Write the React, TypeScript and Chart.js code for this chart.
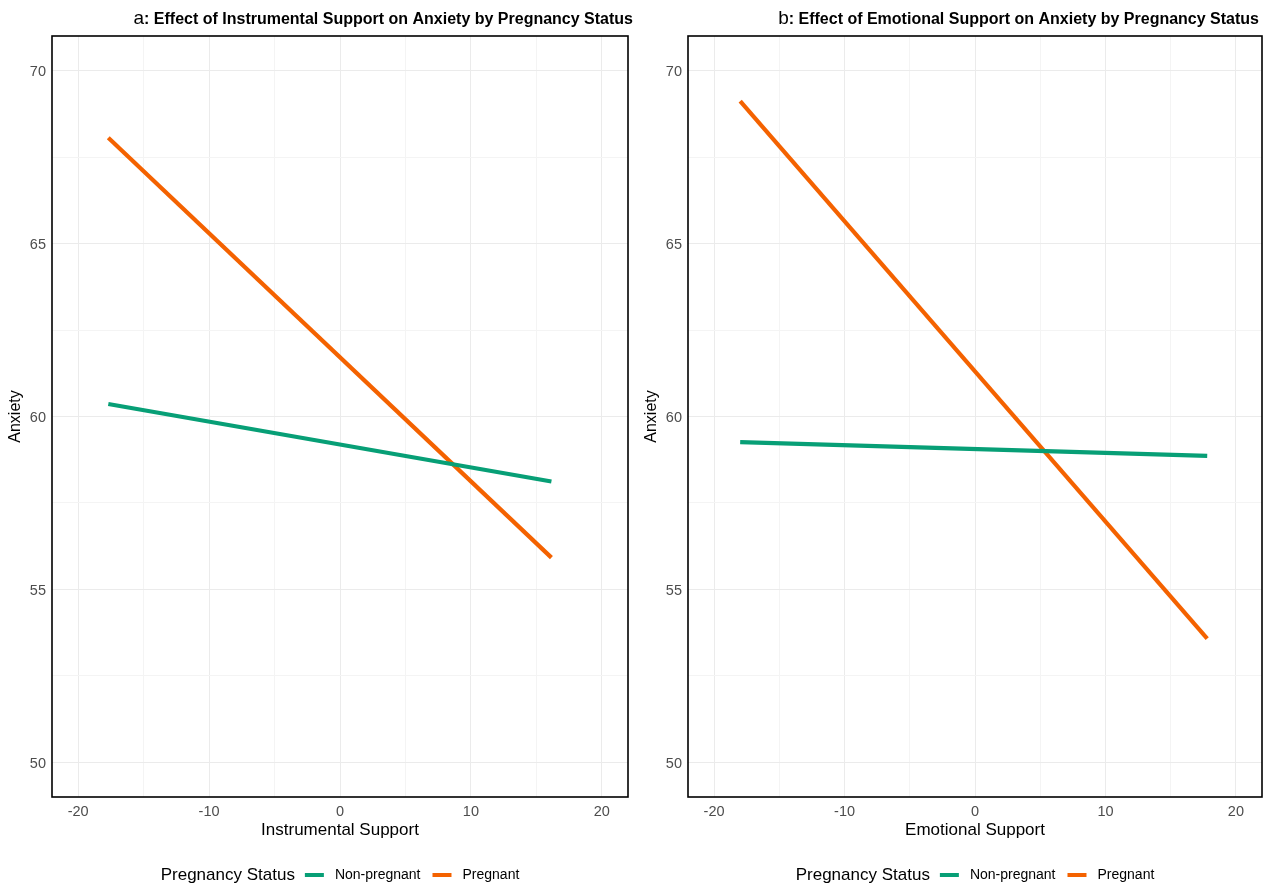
import React, { useEffect, useRef } from 'react';
import { Chart, registerables } from 'chart.js';

Chart.register(...registerables);

// ---- data ----
const statusLabels = ['Non-pregnant', 'Pregnant'];
const legendTitle = 'Pregnancy Status';
const yTitle = 'Anxiety';

const instrX = [-17.7, 16.15];
const instrNonPregnant = [60.36, 58.12];
const instrPregnant = [68.06, 55.92];

const emoX = [-18.0, 17.8];
const emoNonPregnant = [59.26, 58.86];
const emoPregnant = [69.12, 53.58];

const xTickLabels = [-20, -10, 0, 10, 20];
const yTickLabels = [50, 55, 60, 65, 70];

const colors = ['#079F76', '#F46200'];
const FONT = '"Liberation Sans", Arial, Helvetica, sans-serif';
const H = 886;

type PanelCfg = {
  tag: string;
  title: string;
  xTitle: string;
  xs: number[];
  series: number[][];
  width: number;
  left: number;
  padRight: number;
  titleRight: number;
};

const panels: PanelCfg[] = [
  {
    tag: 'a',
    title: ': Effect of Instrumental Support on Anxiety by Pregnancy Status',
    xTitle: 'Instrumental Support',
    xs: instrX,
    series: [instrNonPregnant, instrPregnant],
    width: 636,
    left: 0,
    padRight: 8,
    titleRight: 633,
  },
  {
    tag: 'b',
    title: ': Effect of Emotional Support on Anxiety by Pregnancy Status',
    xTitle: 'Emotional Support',
    xs: emoX,
    series: [emoNonPregnant, emoPregnant],
    width: 629,
    left: 636,
    padRight: 3,
    titleRight: 623,
  },
];

function PanelChart({ cfg }: { cfg: PanelCfg }) {
  const ref = useRef<HTMLCanvasElement>(null);
  useEffect(() => {
    const canvas = ref.current;
    if (!canvas) return;
    const decor = {
      id: 'decor',
      afterDatasetsDraw(chart: any) {
        const { ctx, chartArea: ca } = chart;
        ctx.save();
        ctx.strokeStyle = '#000';
        ctx.lineWidth = 1.6;
        ctx.strokeRect(ca.left, ca.top, ca.right - ca.left, ca.bottom - ca.top);
        ctx.restore();
      },
      afterDraw(chart: any) {
        const { ctx, chartArea: ca } = chart;
        ctx.save();
        // title
        ctx.textBaseline = 'middle';
        ctx.fillStyle = '#000';
        ctx.font = `bold 16px ${FONT}`;
        const wTitle = ctx.measureText(cfg.title).width;
        ctx.font = `19px ${FONT}`;
        const wTag = ctx.measureText(cfg.tag).width;
        const start = cfg.titleRight - wTitle - wTag;
        ctx.textAlign = 'left';
        ctx.fillText(cfg.tag, start, 19);
        ctx.font = `bold 16px ${FONT}`;
        ctx.fillText(cfg.title, start + wTag, 20);

        // axis titles
        const cx = (ca.left + ca.right) / 2;
        const cy = (ca.top + ca.bottom) / 2;
        ctx.font = `17px ${FONT}`;
        ctx.textAlign = 'center';
        ctx.fillText(cfg.xTitle, cx, 830);
        ctx.save();
        ctx.translate(16, cy);
        ctx.rotate(-Math.PI / 2);
        ctx.font = `16px ${FONT}`;
        ctx.fillText(yTitle, 0, 0);
        ctx.restore();

        // legend
        const ly = 875;
        const sw = 19;
        ctx.font = `17px ${FONT}`;
        const wLT = ctx.measureText(legendTitle).width;
        ctx.font = `14px ${FONT}`;
        const wLabels = chart.data.datasets.map((d: any) => ctx.measureText(d.label).width);
        const gapT = 10, gapS = 11, gapL = 12;
        let total = wLT;
        wLabels.forEach((w: number) => { total += gapT + sw + gapS + w; });
        total += gapL - gapT;
        let x = cx - total / 2;
        ctx.textAlign = 'left';
        ctx.font = `17px ${FONT}`;
        ctx.fillText(legendTitle, x, ly);
        x += wLT;
        chart.data.datasets.forEach((d: any, i: number) => {
          x += i === 0 ? gapT : gapL;
          ctx.strokeStyle = d.borderColor;
          ctx.lineWidth = 4;
          ctx.beginPath();
          ctx.moveTo(x, ly);
          ctx.lineTo(x + sw, ly);
          ctx.stroke();
          x += sw + gapS;
          ctx.font = `14px ${FONT}`;
          ctx.fillStyle = '#000';
          ctx.fillText(d.label, x, ly);
          x += wLabels[i];
        });
        ctx.restore();
      },
    };

    const chart = new Chart(canvas, {
      type: 'line',
      data: {
        datasets: cfg.series.map((s, i) => ({
          label: statusLabels[i],
          data: cfg.xs.map((xv, j) => ({ x: xv, y: s[j] })),
          borderColor: colors[i],
          backgroundColor: colors[i],
          borderWidth: 4.2,
          pointRadius: 0,
          tension: 0,
          fill: false,
        })),
      },
      options: {
        animation: false,
        responsive: false,
        devicePixelRatio: 1,
        layout: { padding: { left: 0, right: cfg.padRight, top: 36, bottom: 0 } },
        plugins: { legend: { display: false }, title: { display: false }, tooltip: { enabled: false } },
        scales: {
          x: {
            type: 'linear',
            min: -22,
            max: 22,
            border: { display: false },
            grid: {
              drawTicks: false,
              color: (c: any) => (c.tick && xTickLabels.includes(c.tick.value) ? '#EBEBEB' : '#F4F4F4'),
              lineWidth: 1,
            },
            ticks: {
              stepSize: 5,
              includeBounds: false,
              autoSkip: false,
              maxRotation: 0,
              padding: 6,
              color: '#4D4D4D',
              font: { family: FONT, size: 14.5 },
              callback: (v: any) => (xTickLabels.includes(Number(v)) ? String(v) : ''),
            },
            afterFit: (s: any) => { s.height = 89; },
          },
          y: {
            type: 'linear',
            min: 49,
            max: 71,
            border: { display: false },
            grid: {
              drawTicks: false,
              color: (c: any) => (c.tick && yTickLabels.includes(c.tick.value) ? '#EBEBEB' : '#F4F4F4'),
              lineWidth: 1,
            },
            ticks: {
              stepSize: 2.5,
              includeBounds: false,
              autoSkip: false,
              padding: 6,
              labelOffset: 1.5,
              color: '#4D4D4D',
              font: { family: FONT, size: 14.5 },
              callback: (v: any) => (yTickLabels.includes(Number(v)) ? String(v) : ''),
            },
            afterFit: (s: any) => { s.width = 52; },
          },
        },
      },
      plugins: [decor],
    } as any);
    return () => chart.destroy();
  }, [cfg]);
  return (
    <canvas
      ref={ref}
      width={cfg.width}
      height={H}
      style={{ position: 'absolute', left: cfg.left, top: 0, width: cfg.width, height: H }}
    />
  );
}

export default function App() {
  return (
    <div style={{ position: 'absolute', left: 0, top: 0, width: 1265, height: H, background: '#fff' }}>
      {panels.map((p) => (
        <PanelChart key={p.tag} cfg={p} />
      ))}
    </div>
  );
}
